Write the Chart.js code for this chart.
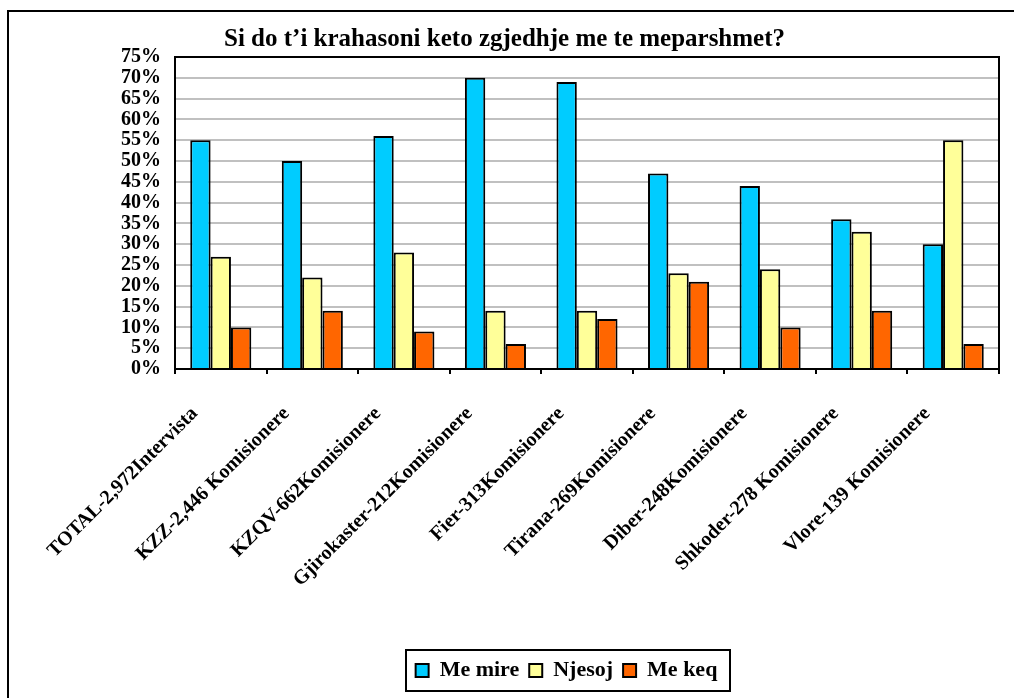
<!DOCTYPE html>
<html><head><meta charset="utf-8">
<script src="https://cdn.jsdelivr.net/npm/chart.js@4/dist/chart.umd.min.js"></script>
<style>html,body{margin:0;padding:0;background:#fff;overflow:hidden}#wrap{width:1014px;height:698px;position:relative}</style>
</head><body><div id="wrap"><canvas id="c" width="1014" height="698"></canvas></div>
<script>
const titleText = 'Si do t\u2019i krahasoni keto zgjedhje me te meparshmet?';
const categories = ['TOTAL-2,972Intervista','KZZ-2,446 Komisionere','KZQV-662Komisionere','Gjirokaster-212Komisionere','Fier-313Komisionere','Tirana-269Komisionere','Diber-248Komisionere','Shkoder-278 Komisionere','Vlore-139 Komisionere'];
const seriesNames = ['Me mire','Njesoj','Me keq'];
const meMire = [55,50,56,70,69,47,44,36,30];
const njesoj = [27,22,28,14,14,23,24,33,55];
const meKeq  = [10,14,9,6,12,21,10,14,6];
const yMin = 0, yMax = 75, yStep = 5;

const SERIF = "'Liberation Serif','Times New Roman',serif";
const colors = ['#00CCFF','#FFFF99','#FF6600'];
const LEG_PAD = 10;
const LEG_FONT = 22;
const CHART_BOTTOM = 369;

function legendCenterY(lg){
  return lg.top + LEG_PAD + Math.max(LEG_FONT, 13)/2;
}

const framePlugin = {
  id:'frame',
  beforeDraw(chart){
    const ctx = chart.ctx;
    ctx.save();
    ctx.fillStyle='#fff'; ctx.fillRect(0,0,chart.width,chart.height);
    ctx.strokeStyle='#000'; ctx.lineWidth=2;
    ctx.strokeRect(8,11,chart.width+20,chart.height+20);
    ctx.restore();
  },
  afterLayout(chart){
    const lg = chart.legend;
    const dx = 566.5 - (lg.left+lg.right)/2;
    lg.left += dx; lg.right += dx;
    const dy = 670.5 - legendCenterY(lg);
    lg.top += dy; lg.bottom += dy;
  },
  beforeDatasetsDraw(chart){
    const a = chart.chartArea, ctx = chart.ctx;
    ctx.save(); ctx.strokeStyle='#000'; ctx.lineWidth=2;
    ctx.beginPath();
    ctx.moveTo(a.left,a.top); ctx.lineTo(a.right,a.top); ctx.lineTo(a.right,a.bottom);
    ctx.stroke(); ctx.restore();
  },
  afterDraw(chart){
    const lg = chart.legend, ctx = chart.ctx;
    const p = LEG_PAD;
    const lw = lg.lineWidths[0];
    const start = (lg.left + p + lg.right - lw)/2;
    const end = start + lw - p;
    const cy = legendCenterY(lg);
    ctx.save(); ctx.strokeStyle='#000'; ctx.lineWidth=2;
    ctx.strokeRect(Math.round(start-10), Math.round(cy-20.5), Math.round(end-start+22), 41);
    ctx.restore();
  }
};

new Chart(document.getElementById('c'), {
  type:'bar',
  data:{
    labels: categories,
    datasets:[
      {label:seriesNames[0], data:meMire, backgroundColor:colors[0]},
      {label:seriesNames[1], data:njesoj, backgroundColor:colors[1]},
      {label:seriesNames[2], data:meKeq, backgroundColor:colors[2]}
    ].map(d=>Object.assign(d,{borderColor:'#000',borderWidth:2,borderSkipped:'bottom',barPercentage:1,categoryPercentage:0.667}))
  },
  options:{
    responsive:false, animation:false, devicePixelRatio:1,
    layout:{padding:{left:10,right:15,top:25,bottom:0}},
    plugins:{
      title:{display:true,text:titleText,color:'#000',font:{family:SERIF,size:25,weight:'bold',lineHeight:1.2},padding:{top:0,bottom:2}},
      legend:{position:'bottom',labels:{color:'#000',font:{family:SERIF,size:LEG_FONT,weight:'bold'},boxWidth:13,boxHeight:13,padding:LEG_PAD}},
      tooltip:{enabled:false}
    },
    scales:{
      x:{
        grid:{offset:true,drawOnChartArea:false,drawTicks:true,tickLength:5,color:'#000',lineWidth:2},
        border:{color:'#000',width:2},
        ticks:{color:'#000',font:{family:SERIF,size:20,weight:'bold'},minRotation:45,maxRotation:45,autoSkip:false,padding:28,labelOffset:-26},
        afterFit(s){ const lg = s.chart.legend; const lh = lg && lg.height ? lg.height : 42; s.height = (s.chart.height - lh) - CHART_BOTTOM; }
      },
      y:{
        min:yMin,max:yMax,
        grid:{color:'#c0c0c0',lineWidth:2,drawTicks:false},
        border:{color:'#000',width:2},
        ticks:{stepSize:yStep,autoSkip:false,color:'#000',padding:14,font:{family:SERIF,size:20,weight:'bold',lineHeight:1},callback:v=>v+'%'},
        afterFit(s){ s.width = 165; }
      }
    }
  },
  plugins:[framePlugin]
});
</script></body></html>
